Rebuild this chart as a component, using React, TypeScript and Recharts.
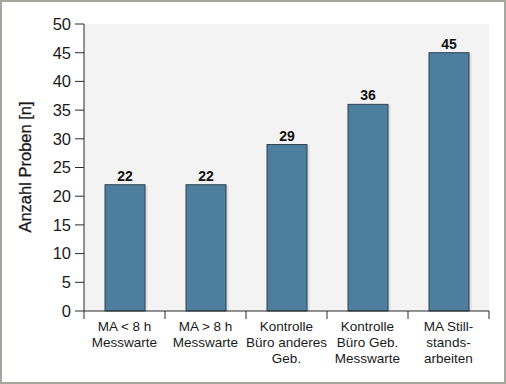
import React from 'react'
import { Bar, BarChart, CartesianGrid, LabelList, XAxis, YAxis } from 'recharts'

// Probenanzahl je Gruppe
const categories = [
  'MA < 8 h\nMesswarte',
  'MA > 8 h\nMesswarte',
  'Kontrolle\nBüro anderes\nGeb.',
  'Kontrolle\nBüro Geb.\nMesswarte',
  'MA Still-\nstands-\narbeiten',
]
const proben = [22, 22, 29, 36, 45]
const yTicks = [0, 5, 10, 15, 20, 25, 30, 35, 40, 45, 50]

const data = categories.map((name, i) => ({ name, value: proben[i] }))

const FONT = '"Liberation Sans", Arial, sans-serif'
const AXIS = '#2a2a2a'
const INK = '#1a1a1a'

function CategoryTick(props: any) {
  const { x, y, payload, index, visibleTicksCount } = props
  const half = payload?.offset ?? 40.5
  const axisY = y - 8
  const lines = String(payload.value).split('\n')
  return (
    <g>
      <line x1={x - half} x2={x - half} y1={axisY} y2={axisY + 8} stroke={AXIS} />
      {index === visibleTicksCount - 1 && (
        <line x1={x + half} x2={x + half} y1={axisY} y2={axisY + 8} stroke={AXIS} />
      )}
      <text textAnchor='middle' fontFamily={FONT} fontSize={13.5} fill={INK}>
        {lines.map((l, i) => (
          <tspan key={i} x={x} y={axisY + 20 + i * 16}>
            {l}
          </tspan>
        ))}
      </text>
    </g>
  )
}

function ShadowBar(props: any) {
  const { x, y, width, height } = props
  return (
    <g>
      <rect x={x + 3} y={y + 1} width={width} height={height - 1} fill='#000' opacity={0.05} />
      <rect x={x + 1.5} y={y + 1} width={width} height={height - 1} fill='#000' opacity={0.06} />
      <rect x={x} y={y} width={width} height={height} fill='#4e7e9d' stroke='#2c4354' strokeWidth={1} />
    </g>
  )
}

export default function App() {
  return (
    <div style={{ position: 'absolute', left: 0, top: 0, width: 506, height: 384, background: '#fff' }}>
      <BarChart
        width={506}
        height={384}
        data={data}
        margin={{ top: 24, right: 17, bottom: 13, left: 0 }}
        style={{ fontFamily: FONT }}
      >
        <CartesianGrid horizontal={false} vertical={false} fill='#f3f3f3' />
        <XAxis
          dataKey='name'
          height={60}
          tickLine={false}
          tickSize={8}
          tickMargin={0}
          stroke={AXIS}
          interval={0}
          tick={<CategoryTick />}
        />
        <YAxis
          width={84}
          domain={[0, 50]}
          ticks={yTicks}
          interval={0}
          tickSize={9}
          tickMargin={4}
          stroke={AXIS}
          tick={{ fill: INK, fontSize: 16.5, fontFamily: FONT }}
          label={() => (
            <text
              x={25}
              y={167}
              transform='rotate(-90 25 167)'
              textAnchor='middle'
              dominantBaseline='central'
              fontFamily={FONT}
              fontSize={16.5}
              fill={INK}
              stroke={INK}
              strokeWidth={0.3}
            >
              Anzahl Proben [n]
            </text>
          )}
        />
        <Bar dataKey='value' barSize={40} shape={<ShadowBar />} isAnimationActive={false}>
          <LabelList dataKey='value' position='top' offset={4} fontWeight='bold' fontSize={14} fill='#111' fontFamily={FONT} />
        </Bar>
      </BarChart>
      <div
        style={{
          position: 'absolute',
          inset: 0,
          border: '2px solid #a6a69c',
          pointerEvents: 'none',
        }}
      />
    </div>
  )
}
